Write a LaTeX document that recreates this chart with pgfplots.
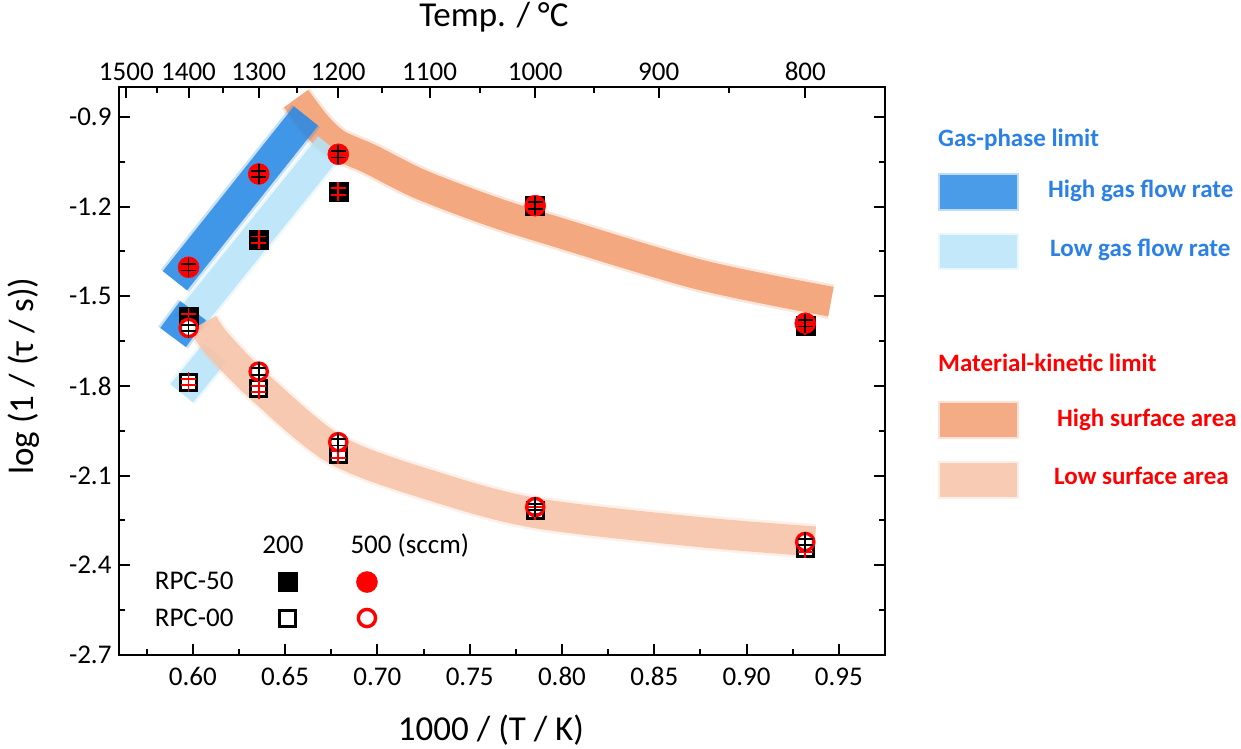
\documentclass[border=0pt]{standalone}
\usepackage{fontspec}
\setmainfont{Carlito}
\usepackage{pgfplots}
\pgfplotsset{compat=1.18}
\usepackage{pgfplotstable}

\definecolor{bandDark}{RGB}{42,138,228}
\definecolor{bandLight}{RGB}{183,228,248}
\definecolor{bandOrA}{RGB}{241,157,111}
\definecolor{bandOrB}{RGB}{247,194,167}
\definecolor{swDark}{RGB}{74,155,232}
\definecolor{swLight}{RGB}{194,232,249}
\definecolor{swOrA}{RGB}{243,172,133}
\definecolor{swOrB}{RGB}{248,203,180}
\definecolor{txtBlue}{RGB}{43,128,230}
\definecolor{mred}{RGB}{255,0,0}

\newcommand{\ft}{\fontsize{27bp}{32bp}\selectfont}
\newcommand{\fl}{\fontsize{35bp}{42bp}\selectfont}
\newcommand{\fg}{\fontsize{25bp}{30bp}\selectfont\bfseries}

% error bar glyph: vertical bar with two short caps
\pgfdeclareplotmark{ebar}{%
  \pgfpathmoveto{\pgfpoint{0bp}{-9.6bp}}\pgfpathlineto{\pgfpoint{0bp}{9.6bp}}%
  \pgfpathmoveto{\pgfpoint{-7.5bp}{3.3bp}}\pgfpathlineto{\pgfpoint{7.5bp}{3.3bp}}%
  \pgfpathmoveto{\pgfpoint{-7.5bp}{-3.3bp}}\pgfpathlineto{\pgfpoint{7.5bp}{-3.3bp}}%
  \pgfusepathqstroke}

% RPC-50, 200 sccm (filled squares)
\pgfplotstableread{
x y
0.5977 -1.570
0.6357 -1.311
0.6788 -1.150
0.7855 -1.197
0.9318 -1.598
}\tSqFill
% RPC-50, 500 sccm (filled circles)
\pgfplotstableread{
x y
0.5977 -1.403
0.6357 -1.091
0.6788 -1.025
0.7855 -1.197
0.9318 -1.590
}\tCiFill
% RPC-00, 200 sccm (open squares)
\pgfplotstableread{
x y
0.5977 -1.787
0.6357 -1.810
0.6788 -2.029
0.7855 -2.216
0.9318 -2.344
}\tSqOpen
% RPC-00, 500 sccm (open circles)
\pgfplotstableread{
x y
0.5977 -1.606
0.6357 -1.752
0.6788 -1.988
0.7855 -2.205
0.9318 -2.322
}\tCiOpen

\pgfplotsset{
  err/.style={forget plot, only marks, mark=ebar,
    mark options={draw=#1, line width=1.8bp, solid}},
  band/.style n args={3}{forget plot, line cap=butt, #1,
    preaction={draw=#2, line width=#3+5bp, opacity=0.25},
    draw=#2, line width=#3, opacity=0.85},
}

\begin{document}
\begin{tikzpicture}
\useasboundingbox (0,0) rectangle (1241bp,749bp);
\begin{axis}[
  at={(119bp,94bp)}, anchor=south west,
  scale only axis, width=766bp, height=568bp,
  xmin=0.56, xmax=0.975, ymin=-2.7, ymax=-0.8,
  xtick={0.60,0.65,0.70,0.75,0.80,0.85,0.90,0.95},
  xticklabels={0.60,0.65,0.70,0.75,0.80,0.85,0.90,0.95},
  minor xtick={0.575,0.625,0.675,0.725,0.775,0.825,0.875,0.925},
  ytick={-2.7,-2.4,-2.1,-1.8,-1.5,-1.2,-0.9},
  yticklabels={-2.7,-2.4,-2.1,-1.8,-1.5,-1.2,-0.9},
  minor ytick={-2.55,-2.25,-1.95,-1.65,-1.35,-1.05},
  xtick pos=left, yticklabel pos=left,
  tick align=inside,
  major tick length=11bp, minor tick length=6bp,
  tick style={line width=2bp, black},
  axis line style={line width=2.3bp},
  tick label style={font=\ft},
  xticklabel shift=9bp, yticklabel shift=4bp,
  legend columns=2,
  legend style={at={(0.2728,0.0968)}, anchor=center, draw=none, fill=none,
    inner sep=0pt, outer sep=0pt, row sep=0pt, column sep=0pt,
    nodes={inner sep=0pt, outer sep=0pt}},
  legend image code/.code={\path[draw=none,fill=none] (-39bp,-18bp) (39bp,18bp);
    \draw[#1] plot coordinates {(0bp,0bp)};},
]
% bands
\addplot[band={smooth}{bandOrA}{30bp}]
  coordinates {(0.6559,-0.839) (0.6671,-0.930) (0.6779,-0.991) (0.6960,-1.041)
  (0.7231,-1.125) (0.7610,-1.214) (0.7951,-1.281) (0.8747,-1.428) (0.9457,-1.518)};
\addplot[band={sharp plot}{bandDark}{31bp}]
  coordinates {(0.5903,-1.448) (0.6613,-0.897)};
\addplot[band={sharp plot}{bandLight}{30bp}]
  coordinates {(0.5958,-1.598) (0.6743,-0.997)};
\addplot[band={sharp plot}{bandLight}{29bp}]
  coordinates {(0.5940,-1.825) (0.6120,-1.688)};
\addplot[band={sharp plot}{bandDark}{32bp}]
  coordinates {(0.5893,-1.638) (0.6001,-1.548)};
\addplot[band={smooth}{bandOrB}{30bp}]
  coordinates {(0.6055,-1.590) (0.6131,-1.658) (0.6364,-1.805) (0.6781,-2.016)
  (0.7323,-2.139) (0.7864,-2.226) (0.8747,-2.289) (0.9370,-2.320)};
% markers
\addplot[only marks, mark=square*, mark size=9.5bp, mark options={fill=black, draw=black, line width=0.5bp}]
  table[x=x, y=y] {\tSqFill}; \addlegendentry{\mbox{}}
\addplot[only marks, mark=*, mark size=10.5bp, mark options={fill=mred, draw=mred, line width=0.5bp}]
  table[x=x, y=y] {\tCiFill}; \addlegendentry{\mbox{}}
\addplot[only marks, mark=square*, mark size=8bp, mark options={fill=white, draw=black, line width=3bp}]
  table[x=x, y=y] {\tSqOpen}; \addlegendentry{\mbox{}}
\addplot[only marks, mark=*, mark size=8.6bp, mark options={fill=white, draw=mred, line width=3.4bp}]
  table[x=x, y=y] {\tCiOpen}; \addlegendentry{\mbox{}}
% error bars
\addplot[err=mred] table[x=x, y=y] {\tSqFill};
\addplot[err=mred] table[x=x, y=y] {\tSqOpen};
\addplot[err=black] table[x=x, y=y] {\tCiFill};
\addplot[err=black] table[x=x, y=y] {\tCiOpen};
\end{axis}

% top temperature axis
\begin{axis}[
  at={(119bp,94bp)}, anchor=south west,
  scale only axis, width=766bp, height=568bp,
  xmin=0.56, xmax=0.975, ymin=0, ymax=1,
  axis x line*=top, axis y line=none,
  xtick={0.56397,0.59768,0.63567,0.67881,0.72825,0.78549,0.85241,0.93183},
  xticklabels={1500,1400,1300,1200,1100,1000,900,800},
  minor xtick={0.58033,0.61609,0.65653,0.70267,0.75577,0.81756,0.89035},
  tick align=inside,
  major tick length=11bp, minor tick length=6bp,
  tick style={line width=2bp, black},
  axis line style={line width=2.3bp},
  tick label style={font=\ft},
  xticklabel shift=3bp,
]
\end{axis}

% axis titles
\node[font=\fl, anchor=base] at (491bp,9bp) {1000 / (T / K)};
\node[font=\fl, anchor=base] at (494bp,722bp) {Temp. / °C};
\node[font=\fl, anchor=base, rotate=90] at (33bp,373bp) {log (1 / (τ / s))};

% inner legend labels
\node[font=\ft, anchor=base] at (283bp,195bp) {200};
\node[font=\ft, anchor=base west] at (347bp,195bp) {500 (sccm)};
\node[font=\ft, anchor=base east] at (237bp,159bp) {RPC-50};
\node[font=\ft, anchor=base east] at (237bp,122bp) {RPC-00};

% right legend
\node[font=\fg, text=txtBlue, anchor=base west, inner sep=0pt] at (938bp,602bp) {Gas-phase limit};
\fill[swDark, opacity=0.35] (938bp,576bp) rectangle (1019bp,538bp);
\fill[swDark] (940bp,574bp) rectangle (1017bp,540bp);
\node[font=\fg, text=txtBlue, anchor=base west, inner sep=0pt] at (1048bp,551bp) {High gas flow rate};
\fill[swLight, opacity=0.35] (938bp,516bp) rectangle (1019bp,479bp);
\fill[swLight] (940bp,514bp) rectangle (1017bp,481bp);
\node[font=\fg, text=txtBlue, anchor=base west, inner sep=0pt] at (1050bp,492bp) {Low gas flow rate};
\node[font=\fg, text=mred, anchor=base west, inner sep=0pt] at (938bp,377bp) {Material-kinetic limit};
\fill[swOrA, opacity=0.35] (938bp,348bp) rectangle (1019bp,310bp);
\fill[swOrA] (940bp,346bp) rectangle (1017bp,312bp);
\node[font=\fg, text=mred, anchor=base west, inner sep=0pt] at (1057bp,322bp) {High surface area};
\fill[swOrB, opacity=0.35] (938bp,288bp) rectangle (1019bp,250bp);
\fill[swOrB] (940bp,286bp) rectangle (1017bp,252bp);
\node[font=\fg, text=mred, anchor=base west, inner sep=0pt] at (1054bp,264bp) {Low surface area};
\end{tikzpicture}
\end{document}
